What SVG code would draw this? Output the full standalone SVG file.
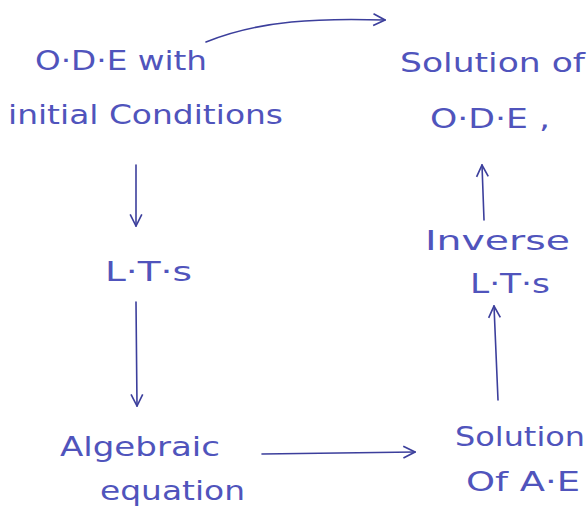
<svg xmlns="http://www.w3.org/2000/svg" width="588" height="510" viewBox="0 0 588 510">
<style>
text{font-family:"DejaVu Sans","Liberation Sans",sans-serif;font-size:27px;fill:#5054bc;font-weight:normal}
.c{fill:none;stroke:#3c3f9c;stroke-width:1.6;stroke-linecap:round}
</style>
<defs>
<marker id="a" viewBox="0 0 12 12" refX="11" refY="6" markerWidth="14" markerHeight="14" markerUnits="userSpaceOnUse" orient="auto">
<path d="M1,1 L11,6 L1,11" fill="none" stroke="#3c3f9c" stroke-width="1.4"/>
</marker>
</defs>
<rect width="588" height="510" fill="#fff"/>
<g id="ode">
<text x="35" y="70" textLength="172" lengthAdjust="spacingAndGlyphs">O·D·E  with</text>
<text x="8" y="124" textLength="275" lengthAdjust="spacingAndGlyphs">initial Conditions</text>
</g>
<g id="sol-ode">
<text x="400" y="72" textLength="185" lengthAdjust="spacingAndGlyphs">Solution of</text>
<text x="430" y="128" textLength="120" lengthAdjust="spacingAndGlyphs">O·D·E ,</text>
</g>
<g id="lts">
<text x="105" y="281" textLength="87" lengthAdjust="spacingAndGlyphs">L·T·s</text>
</g>
<g id="inv-lts">
<text x="425" y="250" textLength="145" lengthAdjust="spacingAndGlyphs">Inverse</text>
<text x="470" y="293" textLength="80" lengthAdjust="spacingAndGlyphs">L·T·s</text>
</g>
<g id="alg">
<text x="60" y="456" textLength="160" lengthAdjust="spacingAndGlyphs">Algebraic</text>
<text x="100" y="500" textLength="145" lengthAdjust="spacingAndGlyphs">equation</text>
</g>
<g id="sol-ae">
<text x="455" y="446" textLength="130" lengthAdjust="spacingAndGlyphs">Solution</text>
<text x="466" y="491" textLength="114" lengthAdjust="spacingAndGlyphs">Of A·E</text>
</g>
<g id="connectors">
<path class="c" d="M206,42 C260,20 320,18 385,20" marker-end="url(#a)"/>
<path class="c" d="M136,165 L136,226" marker-end="url(#a)"/>
<path class="c" d="M136,302 L137,406" marker-end="url(#a)"/>
<path class="c" d="M262,454 L415,452" marker-end="url(#a)"/>
<path class="c" d="M498,400 L494,306" marker-end="url(#a)"/>
<path class="c" d="M484,220 L482,165" marker-end="url(#a)"/>
</g>
</svg>
